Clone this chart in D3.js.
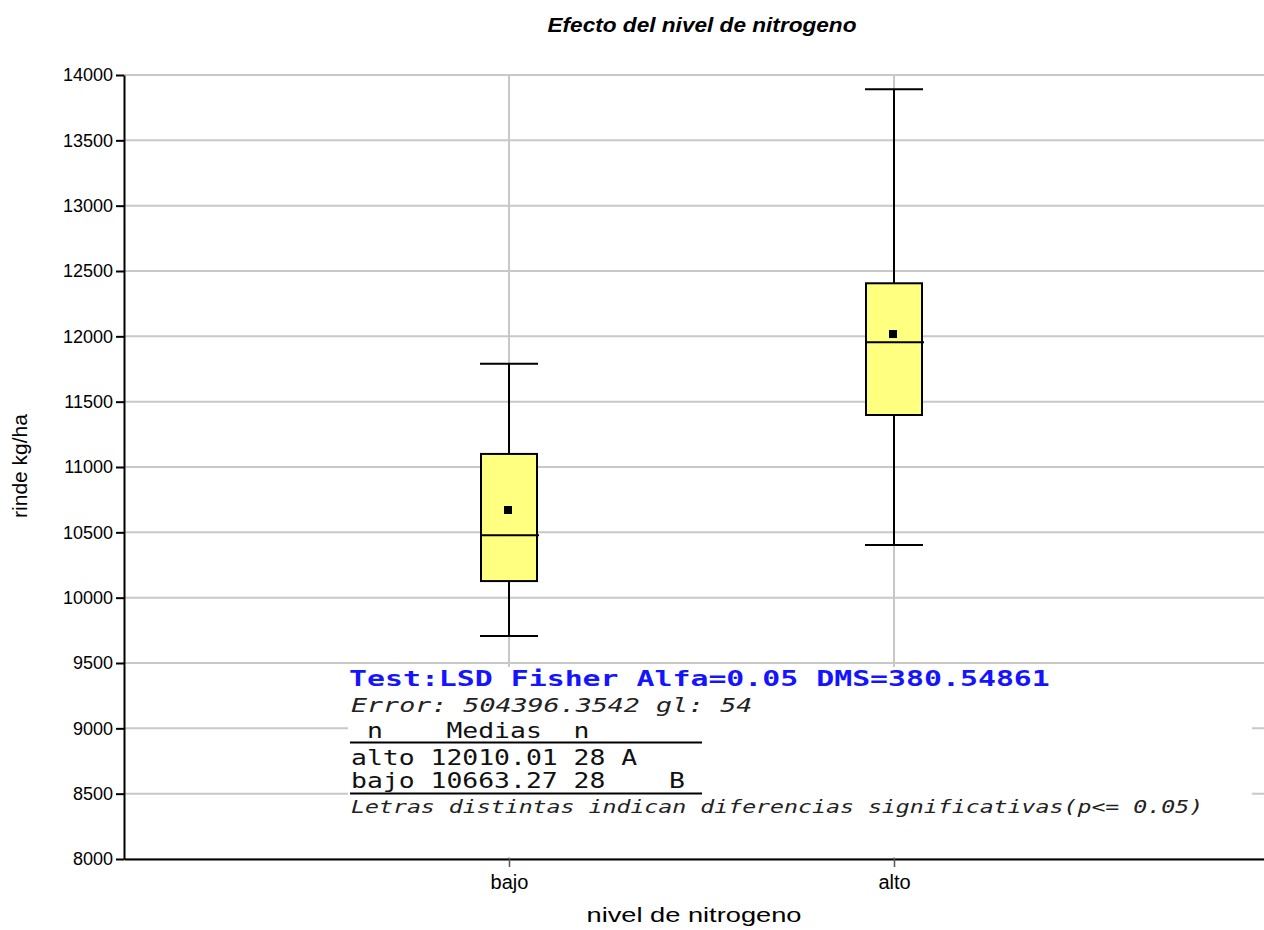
<!DOCTYPE html>
<html>
<head>
<meta charset="utf-8">
<script src="https://cdn.jsdelivr.net/npm/d3@7"></script>
<style>
  body { margin: 0; background: #fff; }
  text { font-family: "Liberation Sans", Arial, sans-serif; }
  .stat { font-family: "DejaVu Sans Mono", monospace; white-space: pre; }
</style>
</head>
<body>
<svg id="chart" width="1264" height="930"></svg>
<script>

// data
var categories  = ["bajo", "alto"];
var whiskerLow  = [9707, 10403];
var q1          = [10127, 11398];
var median      = [10477, 11954];
var q3          = [11100, 12406];
var whiskerHigh = [11790, 13890];
var means       = [10663.27, 12010.01];

var yTicks = d3.range(8000, 14001, 500);

// Fisher LSD table text
var statTitle  = "Test:LSD Fisher Alfa=0.05 DMS=380.54861";
var statError  = "Error: 504396.3542 gl: 54";
var statHeader = " n    Medias  n";
var statRows   = ["alto 12010.01 28 A", "bajo 10663.27 28    B"];
var statNote   = "Letras distintas indican diferencias significativas(p<= 0.05)";

var svg = d3.select("#chart");

var margin = {top: 75, left: 124, bottom: 859, right: 1264};

var y = d3.scaleLinear()
    .domain([8000, 14000])
    .range([margin.bottom, margin.top]);

var x = d3.scalePoint()
    .domain(categories)
    .range([margin.left, 1279])
    .padding(1);

var boxW = 56, capW = 58, dot = 8;

// gridlines
svg.append("g").selectAll("line")
    .data(yTicks)
  .enter().append("line")
    .attr("x1", margin.left).attr("x2", margin.right)
    .attr("y1", function(d) { return y(d); })
    .attr("y2", function(d) { return y(d); })
    .attr("stroke", "#c8c8c8").attr("stroke-width", 2);

svg.append("g").selectAll("line")
    .data(categories)
  .enter().append("line")
    .attr("x1", function(d) { return x(d); })
    .attr("x2", function(d) { return x(d); })
    .attr("y1", margin.top).attr("y2", margin.bottom)
    .attr("stroke", "#c8c8c8").attr("stroke-width", 2);

// boxes
var rows = categories.map(function(c, i) {
  return {cat: c, lo: whiskerLow[i], q1: q1[i], med: median[i], q3: q3[i], hi: whiskerHigh[i], mean: means[i]};
});

var box = svg.append("g").selectAll("g")
    .data(rows)
  .enter().append("g");

box.append("line")
    .attr("x1", function(d) { return x(d.cat); })
    .attr("x2", function(d) { return x(d.cat); })
    .attr("y1", function(d) { return y(d.hi); })
    .attr("y2", function(d) { return y(d.lo); })
    .attr("stroke", "#000").attr("stroke-width", 2);

box.selectAll(".cap")
    .data(function(d) { return [d.lo, d.hi].map(function(v) { return {cat: d.cat, v: v}; }); })
  .enter().append("line")
    .attr("class", "cap")
    .attr("x1", function(d) { return x(d.cat) - capW / 2; })
    .attr("x2", function(d) { return x(d.cat) + capW / 2; })
    .attr("y1", function(d) { return y(d.v); })
    .attr("y2", function(d) { return y(d.v); })
    .attr("stroke", "#000").attr("stroke-width", 2);

box.append("rect")
    .attr("x", function(d) { return x(d.cat) - boxW / 2; })
    .attr("y", function(d) { return y(d.q3); })
    .attr("width", boxW)
    .attr("height", function(d) { return y(d.q1) - y(d.q3); })
    .attr("fill", "#ffff80")
    .attr("stroke", "#000").attr("stroke-width", 2);

box.append("line")
    .attr("x1", function(d) { return x(d.cat) - boxW / 2; })
    .attr("x2", function(d) { return x(d.cat) + boxW / 2 + 2; })
    .attr("y1", function(d) { return y(d.med); })
    .attr("y2", function(d) { return y(d.med); })
    .attr("stroke", "#000").attr("stroke-width", 2);

box.append("rect")
    .attr("x", function(d) { return x(d.cat) - dot / 2 - 1; })
    .attr("y", function(d) { return y(d.mean) - dot / 2 - 1; })
    .attr("width", dot).attr("height", dot)
    .attr("fill", "#000");

// LSD table panel
var panel = svg.append("g");
panel.append("rect")
    .attr("x", 348).attr("y", 667)
    .attr("width", 1252 - 348).attr("height", 857 - 667)
    .attr("fill", "#fff");

function statText(str, xPos, yPos, size, perChar) {
  return panel.append("text")
      .attr("class", "stat")
      .attr("x", xPos).attr("y", yPos)
      .attr("font-size", size + "px")
      .attr("textLength", str.length * perChar)
      .attr("lengthAdjust", "spacingAndGlyphs")
      .text(str);
}

statText(statTitle, 349, 686, 21, 17.97)
    .attr("font-weight", "bold").attr("fill", "#1414ff");
statText(statError, 351, 712, 20, 16.05)
    .attr("font-style", "italic").attr("fill", "#222");
statText(statHeader, 351, 738, 21, 15.9).attr("fill", "#111");
statRows.forEach(function(r, i) {
  statText(r, 351, 765 + i * 23, 21, 15.9).attr("fill", "#111");
});
statText(statNote, 351, 813, 18, 13.97)
    .attr("font-style", "italic").attr("fill", "#222");

[742.5, 793.5].forEach(function(yy) {
  panel.append("line")
      .attr("x1", 350).attr("x2", 702)
      .attr("y1", yy).attr("y2", yy)
      .attr("stroke", "#000").attr("stroke-width", 2);
});

// axes
var yAxis = d3.axisLeft(y)
    .tickValues(yTicks)
    .tickFormat(d3.format("d"))
    .tickSize(8)
    .tickSizeOuter(0)
    .tickPadding(3);

var xAxis = d3.axisBottom(x)
    .tickSize(8)
    .tickSizeOuter(0)
    .tickPadding(8);

var gy = svg.append("g")
    .attr("transform", "translate(" + margin.left + ",0)")
    .call(yAxis);

var gx = svg.append("g")
    .attr("transform", "translate(0," + margin.bottom + ")")
    .call(xAxis);

[gx, gy].forEach(function(g) {
  g.select(".domain").attr("stroke", "#000").attr("stroke-width", 2);
  g.selectAll(".tick line").attr("stroke", "#000").attr("stroke-width", 2);
  g.selectAll(".tick text")
      .attr("fill", "#000")
      .style("font-family", "'Liberation Sans', Arial, sans-serif")
      .style("font-size", "18px");
});
gx.selectAll(".tick line").attr("stroke", "#555").attr("stroke-width", 1.5);
gx.selectAll(".tick text").style("font-size", "20px");

// titles
svg.append("text")
    .attr("x", 702).attr("y", 32)
    .attr("text-anchor", "middle")
    .attr("font-size", "21px")
    .attr("font-weight", "bold")
    .attr("font-style", "italic")
    .attr("textLength", 309)
    .attr("lengthAdjust", "spacingAndGlyphs")
    .text("Efecto del nivel de nitrogeno");

svg.append("text")
    .attr("x", 694).attr("y", 922)
    .attr("text-anchor", "middle")
    .attr("font-size", "21px")
    .attr("textLength", 215)
    .attr("lengthAdjust", "spacingAndGlyphs")
    .text("nivel de nitrogeno");

svg.append("text")
    .attr("transform", "translate(27,466) rotate(-90)")
    .attr("text-anchor", "middle")
    .attr("font-size", "21px")
    .text("rinde kg/ha");

</script>
</body>
</html>
